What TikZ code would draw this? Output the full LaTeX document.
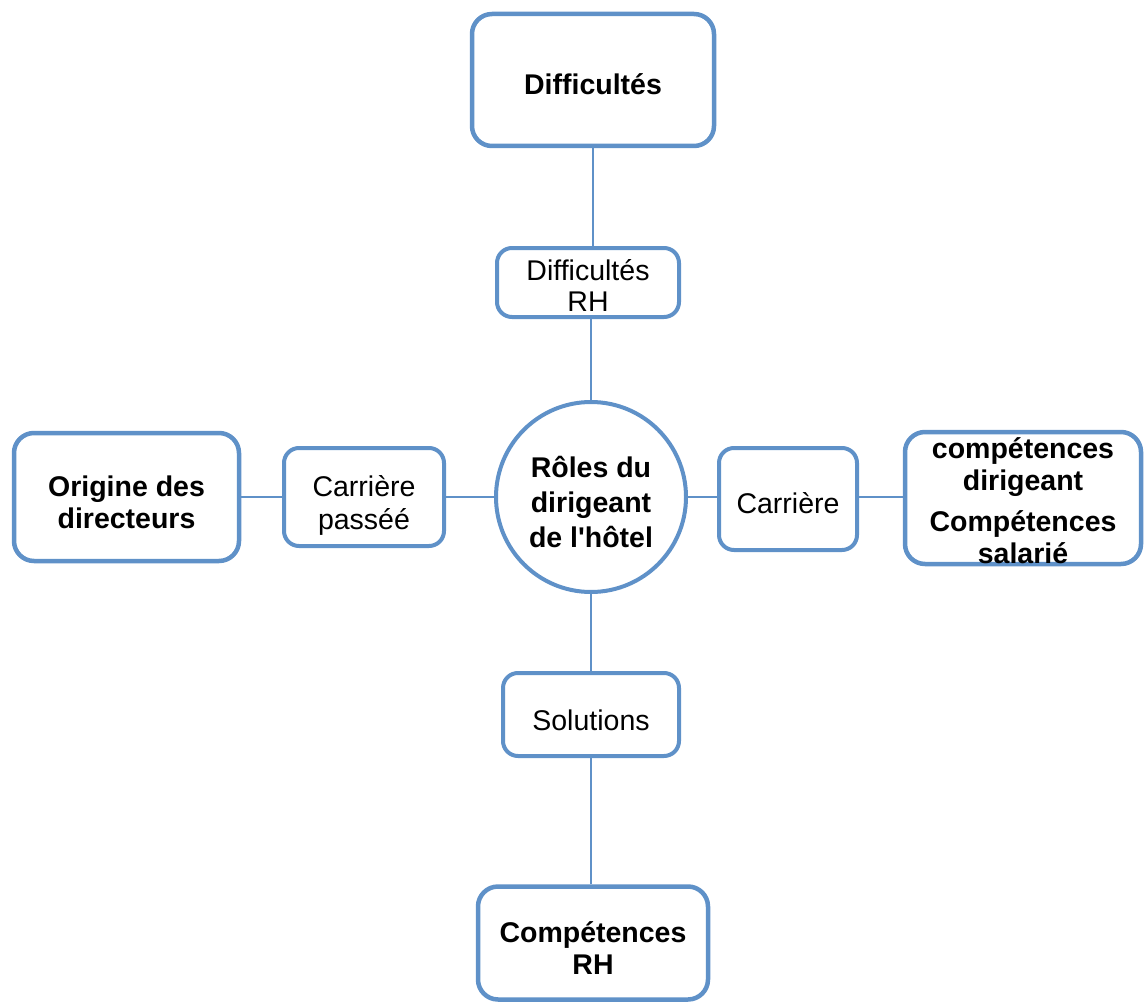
\documentclass[tikz,border=0pt]{standalone}
\usepackage{fontspec}
\setmainfont{Liberation Sans}
\definecolor{bblue}{RGB}{95,145,200}
\newcommand\mltext[2]{\raisebox{-#1pt}[\height][\depth]{\begin{tabular}{@{}c@{}}#2\end{tabular}}}
\begin{document}
\begin{tikzpicture}[x=1pt,y=-1pt,
  bigbox/.style={draw=bblue,line width=4.5pt,rounded corners=20pt,fill=white,inner sep=0pt,align=center,font=\fontsize{28.5}{32}\selectfont\bfseries},
  smallbox/.style={draw=bblue,line width=4pt,rounded corners=15pt,fill=white,inner sep=0pt,align=center,font=\fontsize{28.5}{31}\selectfont},
  hub/.style={draw=bblue,line width=4pt,circle,fill=white,inner sep=0pt,minimum size=190pt,align=center,font=\fontsize{28.5}{35}\selectfont\bfseries},
  link/.style={draw=bblue,line width=1.6pt}]
\useasboundingbox (0,0) rectangle (1145,1003);
% nodes
\node[hub] (hub) at (591,497) {\mltext{8}{R\^oles du\\dirigeant\\de l\textquotesingle h\^otel}};
\node[bigbox,minimum width=242pt,minimum height=132pt] (tb) at (593,80) {\mltext{8}{Difficultés}};
\node[smallbox,minimum width=182pt,minimum height=69pt] (ts) at (588,282.5) {\mltext{7}{Difficultés\\RH}};
\node[smallbox,minimum width=160pt,minimum height=98pt,font=\fontsize{28.5}{33}\selectfont] (ls) at (364,497) {\mltext{9}{Carrière\\passéé}};
\node[bigbox,minimum width=225pt,minimum height=128pt] (lb) at (126.5,497) {\mltext{9}{Origine des\\directeurs}};
\node[smallbox,minimum width=138pt,minimum height=102pt] (rs) at (788,499) {\mltext{8}{Carrière}};
\node[bigbox,minimum width=236pt,minimum height=132pt] (rb) at (1023,498) {};
\node[align=center,inner sep=0pt,font=\fontsize{28.5}{32}\selectfont\bfseries] (rbt) at (1023,501) {compétences\\dirigeant\\[9pt]Compétences\\salarié};
\node[smallbox,minimum width=176pt,minimum height=83pt] (bs) at (591,714.5) {\mltext{10}{Solutions}};
\node[bigbox,minimum width=230pt,minimum height=113pt] (bb) at (593,943) {\mltext{9}{Compétences\\RH}};
% links
\draw[link] (tb.south) -- (tb.south |- ts.north);
\draw[link] (hub.north |- ts.south) -- (hub.north);
\draw[link] (hub.west) -- (ls.east |- hub.west);
\draw[link] (ls.west) -- (lb.east);
\draw[link] (hub.east) -- (rs.west |- hub.east);
\draw[link] (rs.east |- hub.east) -- (rb.west |- hub.east);
\draw[link] (hub.south) -- (hub.south |- bs.north);
\draw[link] (hub.south |- bs.south) -- (hub.south |- bb.north);
\end{tikzpicture}
\end{document}
